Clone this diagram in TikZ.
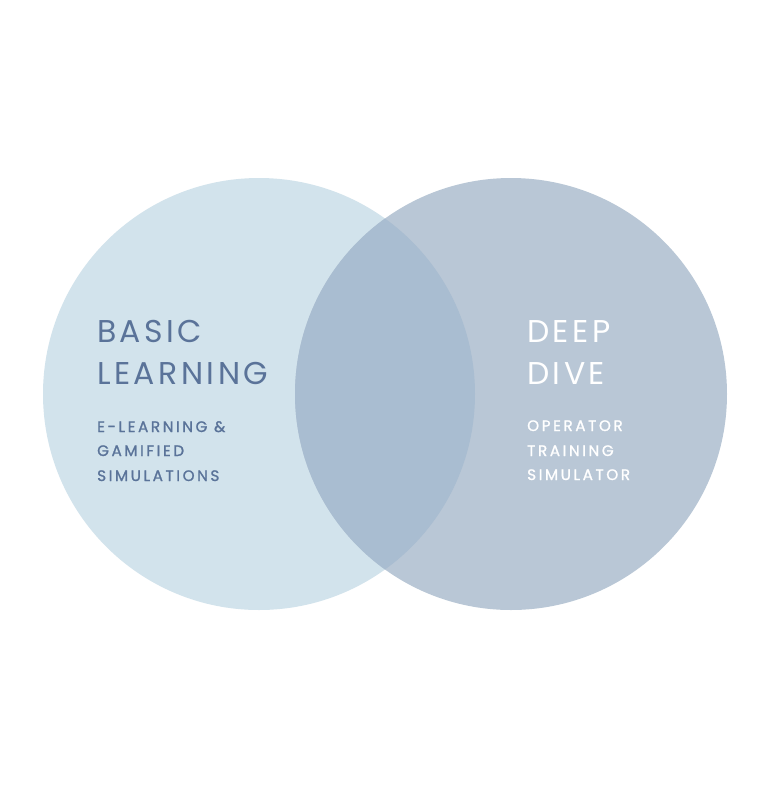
\documentclass[tikz,border=0pt]{standalone}
\usepackage{fontspec}
\setmainfont{Poppins}
\newfontfamily\titlefont[LetterSpace=11]{Poppins}
\newfontfamily\subfont[LetterSpace=17,FakeBold=1.3]{Poppins}
\definecolor{leftc}{HTML}{D2E3EC}
\definecolor{rightc}{HTML}{B9C7D6}
\definecolor{midc}{HTML}{A9BDD1}
\definecolor{txt}{HTML}{5A7399}
\tikzset{
  title/.style={anchor=base west, inner sep=0pt, font=\titlefont\fontsize{31.5}{31.5}\selectfont},
  sub/.style={anchor=base west, inner sep=0pt, font=\subfont\fontsize{15.2}{15.2}\selectfont},
}
\begin{document}
\begin{tikzpicture}[x=1pt,y=1pt]
\useasboundingbox (0,0) rectangle (768,-788);
\fill[white] (0,0) rectangle (768,-788);
\fill[leftc] (259,-394) circle (216);
\fill[rightc] (511,-394) circle (216);
\begin{scope}
\clip (259,-394) circle (216);
\fill[midc] (511,-394) circle (216);
\end{scope}
\node[title, text=txt] (t1) at (97,-342) {BASIC};
\node[title, text=txt] (t2) at (97,-384) {LEARNING};
\node[sub, text=txt] (s1) at (97,-432) {E-LEARNING \&};
\node[sub, text=txt] (s2) at (97,-456) {GAMIFIED};
\node[sub, text=txt] (s3) at (97,-481) {SIMULATIONS};
\node[title, text=white] (t3) at (527,-342) {DEEP};
\node[title, text=white] (t4) at (527,-384) {DIVE};
\node[sub, text=white] (s4) at (527,-431) {OPERATOR};
\node[sub, text=white] (s5) at (527,-456) {TRAINING};
\node[sub, text=white] (s6) at (527,-480) {SIMULATOR};
\end{tikzpicture}
\end{document}
